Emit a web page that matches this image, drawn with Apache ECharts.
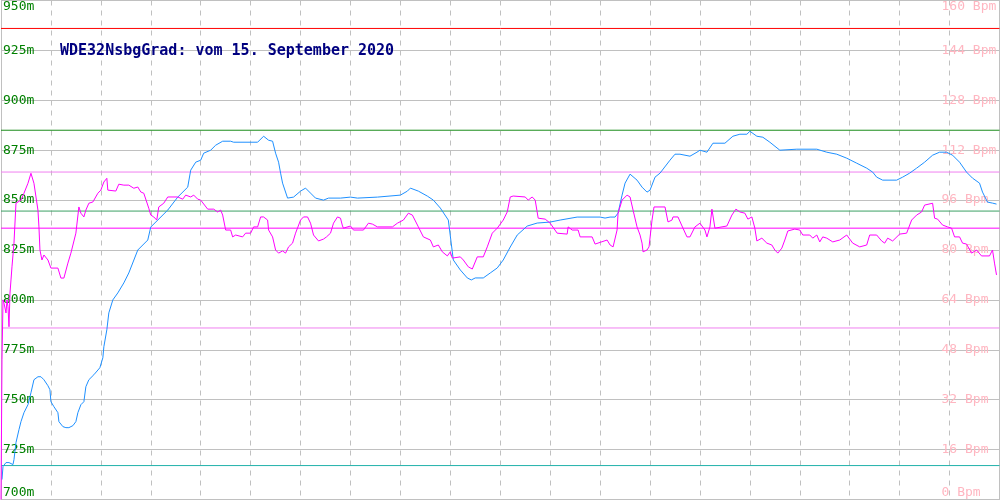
<!DOCTYPE html>
<html>
<head>
<meta charset="utf-8">
<script src="https://cdn.jsdelivr.net/npm/echarts@6/dist/echarts.min.js"></script>
<style>html,body{margin:0;padding:0;background:#fff}#c{width:1000px;height:500px}</style>
</head>
<body>
<div id="c"></div>
<script>
const titleText = 'WDE32NsbgGrad: vom 15. September 2020';

// Altitude (left axis, metres)
const altX = [1,2,5,8,12,13,15,18,20,23,27,30,33,37,40,43,47,49,50,53,57,58,62,65,68,72,75,77,80,83,85,88,93,99,102,103,106,108,112,117,123,128,137,147,150,157,167,177,187,190,195,200,203,210,215,222,230,233,257,263,268,272,275,278,280,282,287,293,300,305,310,315,323,328,340,350,357,377,400,407,410,418,427,433,440,448,453,460,467,471,475,483,490,497,503,510,517,527,537,550,560,577,600,605,610,615,618,622,625,630,637,642,647,650,655,660,670,675,680,690,697,700,707,713,725,733,740,747,750,757,763,770,780,797,817,827,837,847,857,867,873,877,883,897,903,910,917,925,933,940,947,953,960,967,973,980,983,988,993,997];
const altM = [710,716.5,718.5,718.5,717.5,720,728.5,735,739,743.5,747.5,753.5,760,761.5,761.5,760,757,755,749,746.5,743.5,739,736.5,736,736,737,739,743.5,747.5,749,756.5,760,762.5,766,771,776.5,785,793.5,800,803.5,808.5,813.5,825,830,836.5,840,845,851.5,856.5,865,869,870,873.5,875,877.5,879.5,879.5,879,879,882,880,879.5,873.5,869,863.5,858.5,851,851.5,854.5,856,853.5,851,850,851,851,851.5,851,851.5,852.5,854.5,856,854.5,852,850,846,840,820,815,811,810,811,811,813.5,816,820,826.5,832.5,837,838.5,839,840,841.5,841.5,841,841.5,841.5,843.5,852.5,858.5,863,860,856.5,854,855,861.5,863.5,870,873,873,872,874,875,874,878.5,878.5,882,883,883,884.5,882,881.5,879,875,875.5,875.5,874,873,871,868.5,866,864,861.5,860,860,861.5,863.5,866,869,872.5,874,874,872.5,869,864,861,858.5,854,849,848.5,848];

// Pulse (right axis, Bpm)
const hrX = [0,1,2,3,5,6,7,8,9,10,11,12,13,15,17,20,23,27,30,33,37,38,39,41,43,47,50,57,58,60,63,67,70,75,78,80,83,85,88,92,97,100,103,106,107,115,118,123,128,130,133,137,140,143,148,150,153,156,158,163,167,177,182,185,190,193,197,200,207,213,217,220,222,225,230,232,235,237,242,245,250,253,257,260,263,267,268,272,275,278,282,285,288,292,295,300,303,307,310,313,318,323,326,330,333,337,340,342,343,350,353,363,368,372,377,392,397,403,408,412,418,423,430,433,438,442,447,450,452,460,463,468,472,477,483,487,492,497,503,507,510,513,525,528,532,535,538,545,550,557,567,568,572,578,580,592,595,607,610,613,617,618,622,627,630,633,637,640,642,643,647,649,652,654,665,668,672,673,678,683,687,690,695,700,705,707,710,712,715,727,732,736,740,745,748,752,755,757,762,767,772,775,778,782,785,788,795,800,803,810,813,817,820,823,827,833,840,847,853,860,867,870,877,882,885,888,893,900,907,912,917,922,925,933,935,938,943,948,952,955,960,963,967,972,977,982,990,993,995,997];
const hrBpm = [0,44.8,64,63,59.8,64,61.8,55.4,66.2,70.4,74.6,74.6,82.2,95,95.4,96,98.2,101.4,104.6,101.4,92.8,87.4,80,76.8,78.4,76.8,74.2,74.2,74.6,71,71,75.8,79,85.4,93.8,91.8,90.6,92.8,95,95.4,98.2,99.2,101.8,103,99.2,98.9,101.1,100.8,100.8,101.1,99.8,100.2,98.6,98.2,93.4,91.2,90.6,89.6,93.8,95,97,97,96.3,97.6,97,97.6,96.3,96,93.1,93.1,92.2,92.8,91.2,86.4,86.4,84.2,84.8,84.2,84.2,85.4,85.4,87.4,87.4,90.6,90.6,89.6,86.4,84.2,80,79,79.7,79,81,82.2,85.4,89.6,90.6,90.6,88.6,84.8,82.9,83.5,84.2,85.4,88.6,90.6,90.2,87.7,87,87.7,86.4,86.4,88.6,88.3,87.4,87.4,88.6,89.6,91.8,91.2,87.4,84.2,83.2,81,81.6,79.4,78.1,79.4,77.4,77.8,76.8,74.6,73.9,77.8,77.8,81,85.4,87,89.6,92.2,97,97.3,97,96,97,96,90.2,89.9,88.6,85.4,85.1,87.4,86.4,86.4,84.2,84.2,81.9,83.2,81.6,81,86.4,91.8,96,97.6,97,92.8,87.4,84.8,82.2,79.4,80,81,89.6,93.8,93.8,89,89.6,90.6,90.6,87,84.2,84.2,87.4,88.6,86.4,84.2,87.4,93.1,87,87.7,91.2,93.1,92.2,91.8,89.9,90.6,87,82.9,83.8,82.2,81.6,80,79,80.6,83.2,86.1,86.7,86.4,84.8,84.8,83.8,84.8,82.6,84.2,83.8,82.6,83.2,84.8,82.2,81,81.6,84.8,84.8,82.9,82.2,83.8,82.9,85.1,85.4,89.6,91.2,92.2,94.4,95,90.2,89.9,88,87.4,87,84.2,84.2,82.2,81.9,79,80,78.1,78.1,80,75.8,72];

// Reference levels
const altLevels = [936, 885, 844.5, 717];
const altLevelColors = ['#ff0000', '#1a8c1a', '#3ca064', '#20b2aa'];
const hrLevels = [105, 87, 55];
const hrLevelColors = ['#f080f0', '#ff00ff', '#f080f0'];

const FONT = '"DejaVu Sans Mono", "Liberation Mono", monospace';

function levelSeries(v, color, axis) {
  return {
    type: 'line', yAxisIndex: axis, showSymbol: false, silent: true,
    data: [[0, v], [1000, v]],
    lineStyle: {color: color, width: 1, type: 'solid'}, itemStyle: {color: color},
    z: 2
  };
}

const chart = echarts.init(document.getElementById('c'), null, {renderer: 'canvas'});
chart.setOption({
  animation: false,
  backgroundColor: '#ffffff',
  grid: {left: 0.5, right: 0.5, top: 0.5, bottom: 0.5, containLabel: false},
  title: {
    text: titleText, left: 55, top: 39,
    textStyle: {fontFamily: FONT, fontSize: 15, fontWeight: 'bold', color: '#000080'}
  },
  xAxis: {
    type: 'value', min: 0, max: 1000, interval: 50,
    axisLine: {show: true, lineStyle: {color: '#c0c0c0', width: 1}},
    axisTick: {show: false}, axisLabel: {show: false},
    splitLine: {show: true, lineStyle: {color: '#c0c0c0', type: [5, 5], width: 1}}
  },
  yAxis: [
    {
      type: 'value', min: 700, max: 950, interval: 25, position: 'left',
      axisLine: {show: true, lineStyle: {color: '#c0c0c0'}},
      axisTick: {show: false},
      splitLine: {show: true, lineStyle: {color: '#c0c0c0', width: 1}},
      axisLabel: {
        inside: true, margin: 2, align: 'left', formatter: '{value}m',
        color: '#008000', fontFamily: FONT, fontSize: 13,
        verticalAlignMinLabel: 'bottom', verticalAlignMaxLabel: 'top'
      }
    },
    {
      type: 'value', min: 0, max: 160, interval: 16, position: 'right',
      axisLine: {show: true, lineStyle: {color: '#c0c0c0'}},
      axisTick: {show: false},
      splitLine: {show: false},
      axisLabel: {
        inside: true, margin: 58, align: 'left', formatter: '{value} Bpm',
        color: '#ffb6c1', fontFamily: FONT, fontSize: 13,
        verticalAlignMinLabel: 'bottom', verticalAlignMaxLabel: 'top'
      }
    }
  ],
  series: [
    ...altLevels.map((v, i) => levelSeries(v, altLevelColors[i], 0)),
    ...hrLevels.map((v, i) => levelSeries(v, hrLevelColors[i], 1)),
    {
      type: 'line', yAxisIndex: 0, showSymbol: false, silent: true,
      data: altX.map((x, i) => [x, altM[i]]),
      lineStyle: {color: '#1e90ff', width: 1}, itemStyle: {color: '#1e90ff'},
      z: 3
    },
    {
      type: 'line', yAxisIndex: 1, showSymbol: false, silent: true,
      data: hrX.map((x, i) => [x, hrBpm[i]]),
      lineStyle: {color: '#ff00ff', width: 1}, itemStyle: {color: '#ff00ff'},
      z: 4
    }
  ]
});
</script>
</body>
</html>
